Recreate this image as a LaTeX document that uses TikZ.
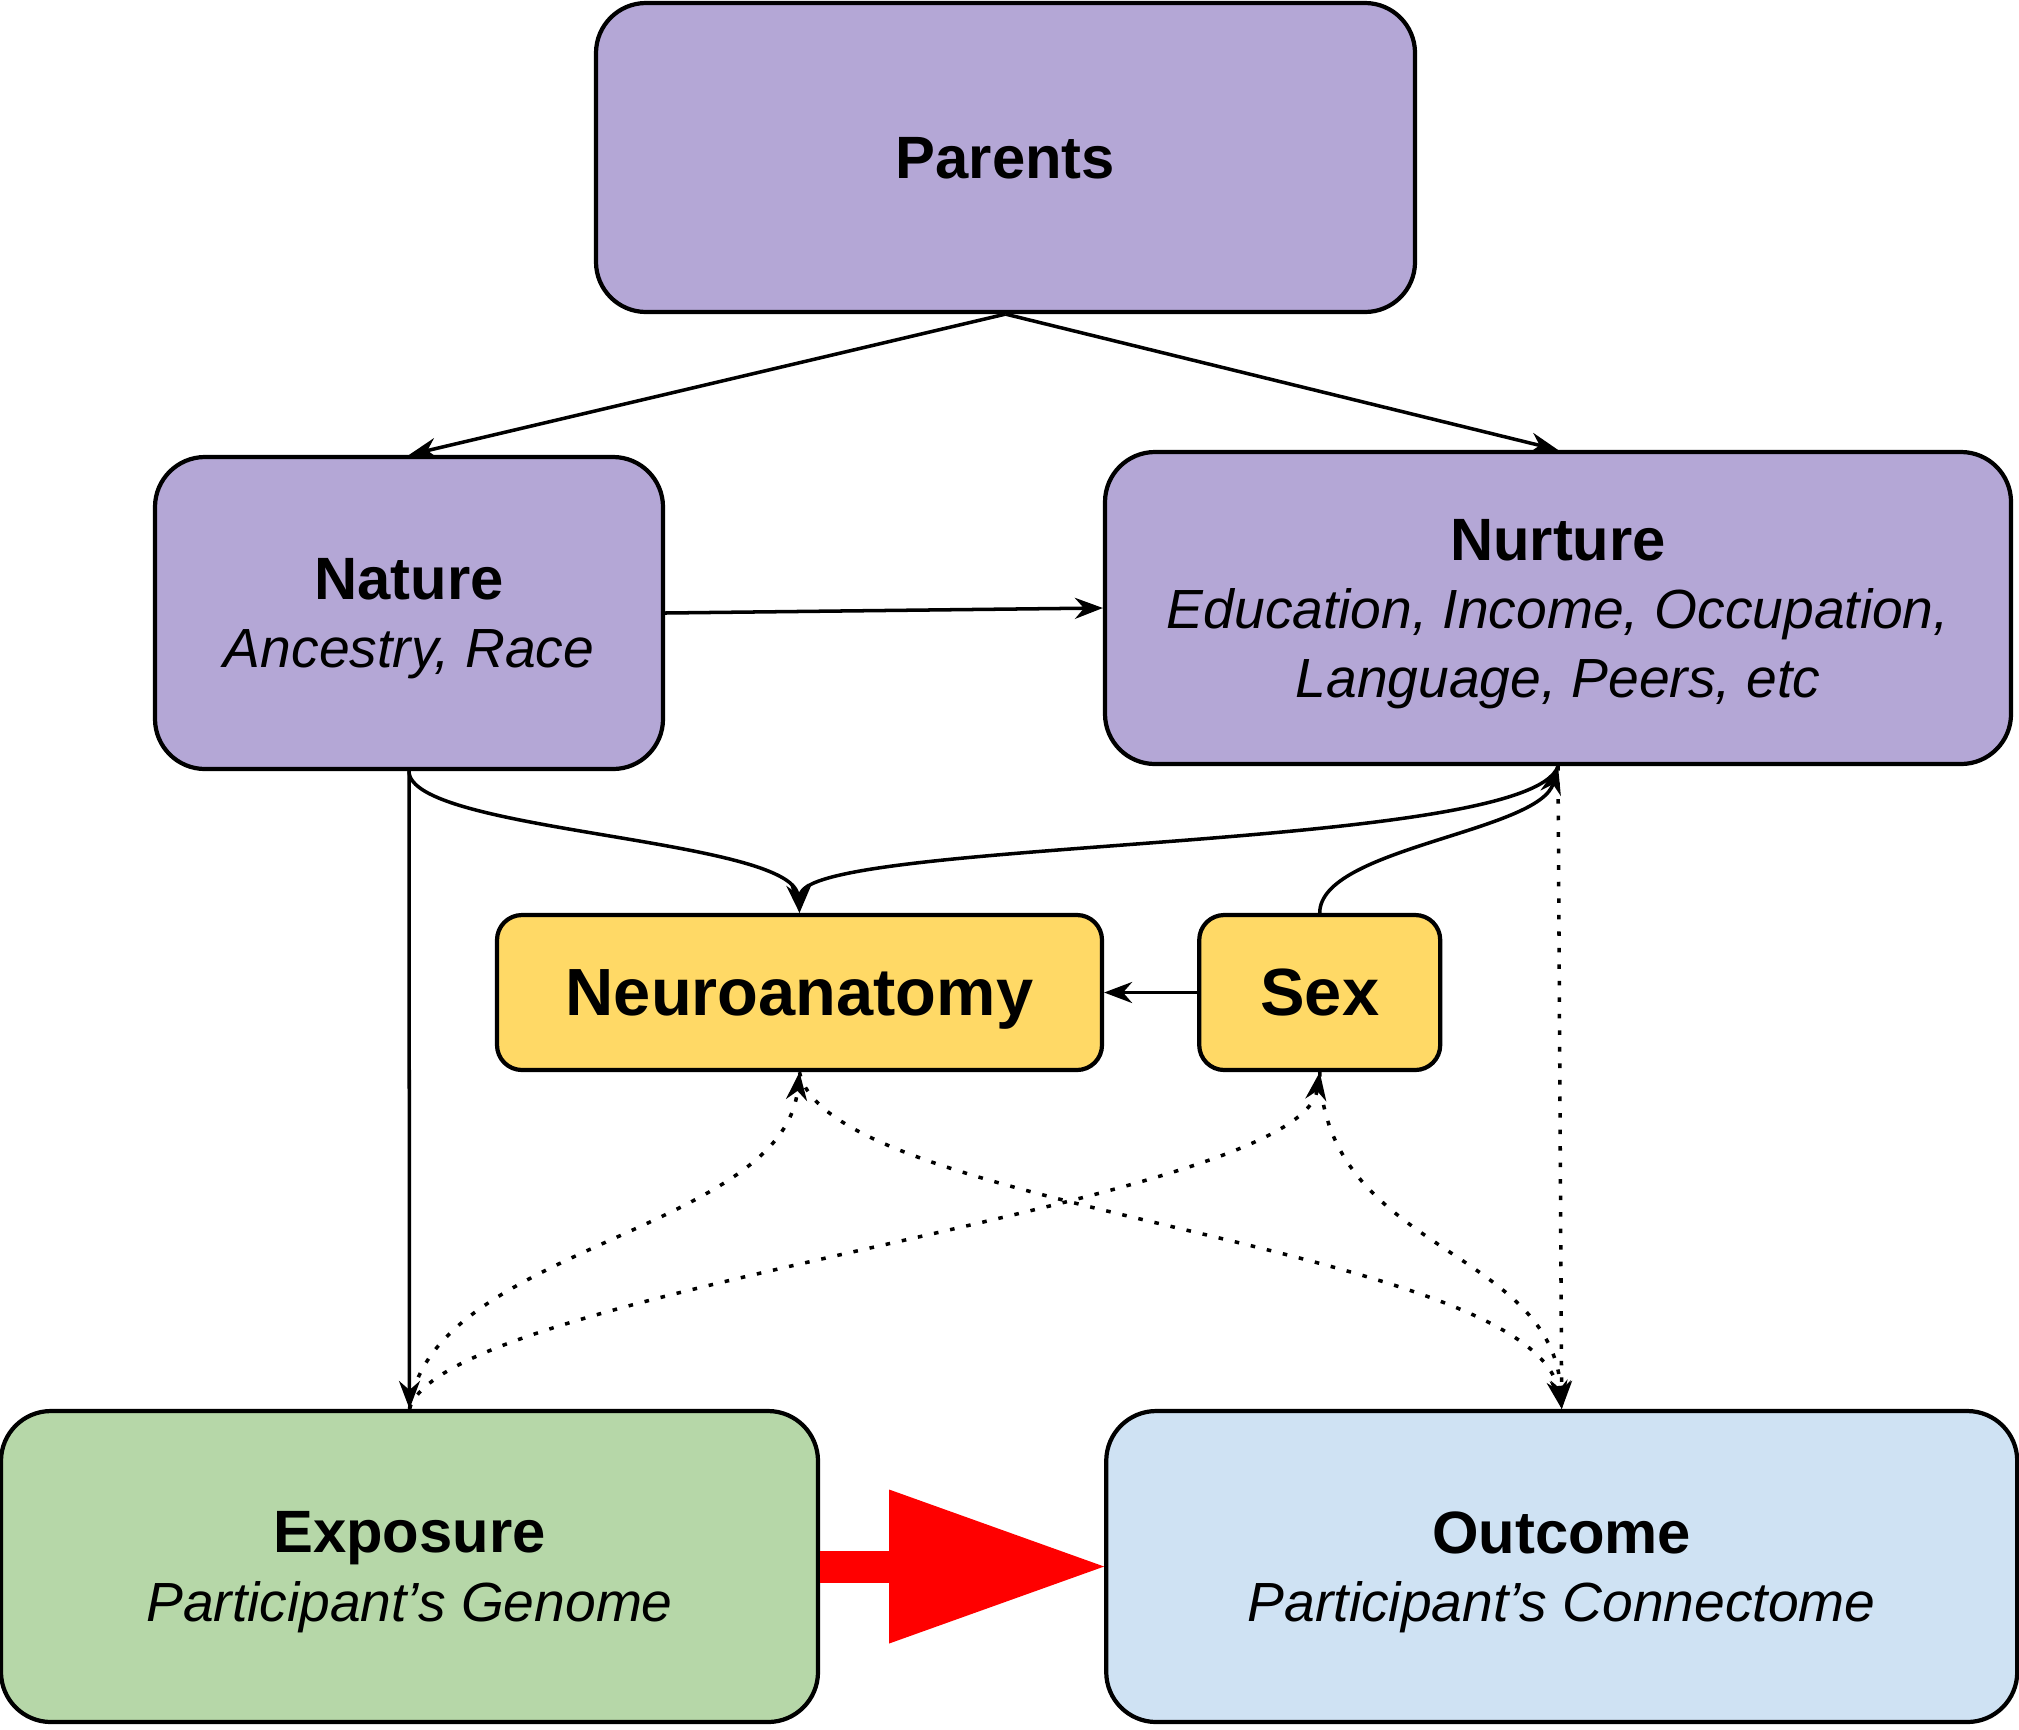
\documentclass[tikz,border=0pt]{standalone}
\usepackage{fontspec}
\setmainfont{Liberation Sans}
\usepackage{xcolor}
\definecolor{lavender}{RGB}{180,167,214}
\definecolor{mustard}{RGB}{255,217,102}
\definecolor{sage}{RGB}{182,215,168}
\definecolor{paleblue}{RGB}{207,226,243}
\usetikzlibrary{positioning,arrows.meta}
\newcommand\ttl[1]{{\fontsize{17}{19.5}\selectfont\bfseries #1}}

\begin{document}
\begin{tikzpicture}[
  font=\fontsize{15.7}{19.5}\selectfont,
  big/.style={draw, line width=1.2pt, rounded corners=0.5cm, align=center,
              inner sep=0pt, text depth=0pt},
  small/.style={draw, line width=1.2pt, rounded corners=0.25cm, align=center,
                inner sep=0pt, minimum height=1.55cm, fill=mustard, text depth=0pt,
                font=\fontsize{19}{22}\selectfont\bfseries},
  flow/.style={-{Stealth[length=2.8mm,width=2.1mm]}, line width=1pt},
  maybe/.style={flow, dash pattern=on 1.3pt off 3.4pt},
]
\useasboundingbox (0,0) rectangle (20.19,-17.29);

% --- ancestry ---
\node[big, fill=lavender, minimum width=8.19cm, minimum height=3.09cm]
  (parents) at (10.055,-1.575) {\ttl{Parents}};
\node[big, fill=lavender, minimum width=5.08cm, minimum height=3.12cm]
  (nature) at (4.09,-6.13) {\ttl{Nature}\\ \textit{Ancestry, Race}};
\node[big, fill=lavender, minimum width=9.06cm, minimum height=3.12cm]
  (nurture) at (15.58,-6.08) {\ttl{Nurture}\\
  \textit{Education, Income, Occupation,}\\ \textit{Language, Peers, etc}};

% --- covariates ---
\node[small, minimum width=6.05cm] (neuro) at (7.995,-9.925) {Neuroanatomy};
\node[small, minimum width=2.41cm, right=0.93cm of neuro] (sex) {Sex};

% --- exposure / outcome ---
\node[big, fill=sage, minimum width=8.17cm, minimum height=3.11cm]
  (expo) at (4.095,-15.665) {\ttl{Exposure}\\ \textit{Participant’s Genome}};
\node[big, fill=paleblue, minimum width=9.11cm, minimum height=3.11cm,
      right=2.84cm of expo] (outc) {\ttl{Outcome}\\ \textit{Participant’s Connectome}};

% --- flows ---
\draw[flow] (parents.south) -- (nature.north);
\draw[flow] (parents.south) -- (nurture.north);
\draw[flow] (nature.east) -- (nurture.west);
\draw[flow] (nature.south) -- (expo.north);
\draw[flow] (nature.south) .. controls +(0,-0.61) and +(-0.07,0.75) .. (neuro.north);
\draw[flow] (nurture.south) .. controls +(-0.28,-0.86) and +(0.03,0.75) .. (neuro.north);
\draw[flow] (sex.north) .. controls +(0,0.65) and +(-0.18,-0.66) .. (nurture.south);
\draw[flow] (sex.west) -- (neuro.east);

% --- possible confounding paths ---
\draw[maybe] (expo.north) .. controls +(0.2,1.61) and +(-0.17,-1.6) .. (neuro.south);
\draw[maybe] (expo.north) .. controls +(0.35,1.21) and +(-0.19,-1.35) .. (sex.south);
\draw[maybe] (neuro.south) .. controls +(0.28,-1.4) and +(-0.28,1.66) .. (outc.north);
\draw[maybe] (sex.south) .. controls +(0.06,-1.8) and +(-0.08,1.61) .. (outc.north);
\draw[maybe] (nurture.south) -- (outc.north);

% --- effect of interest ---
\draw[red, line width=3.2mm,
      -{Triangle[length=21.5mm,width=15.4mm,line width=0pt]}] (expo.east) -- (outc.west);
\end{tikzpicture}
\end{document}
